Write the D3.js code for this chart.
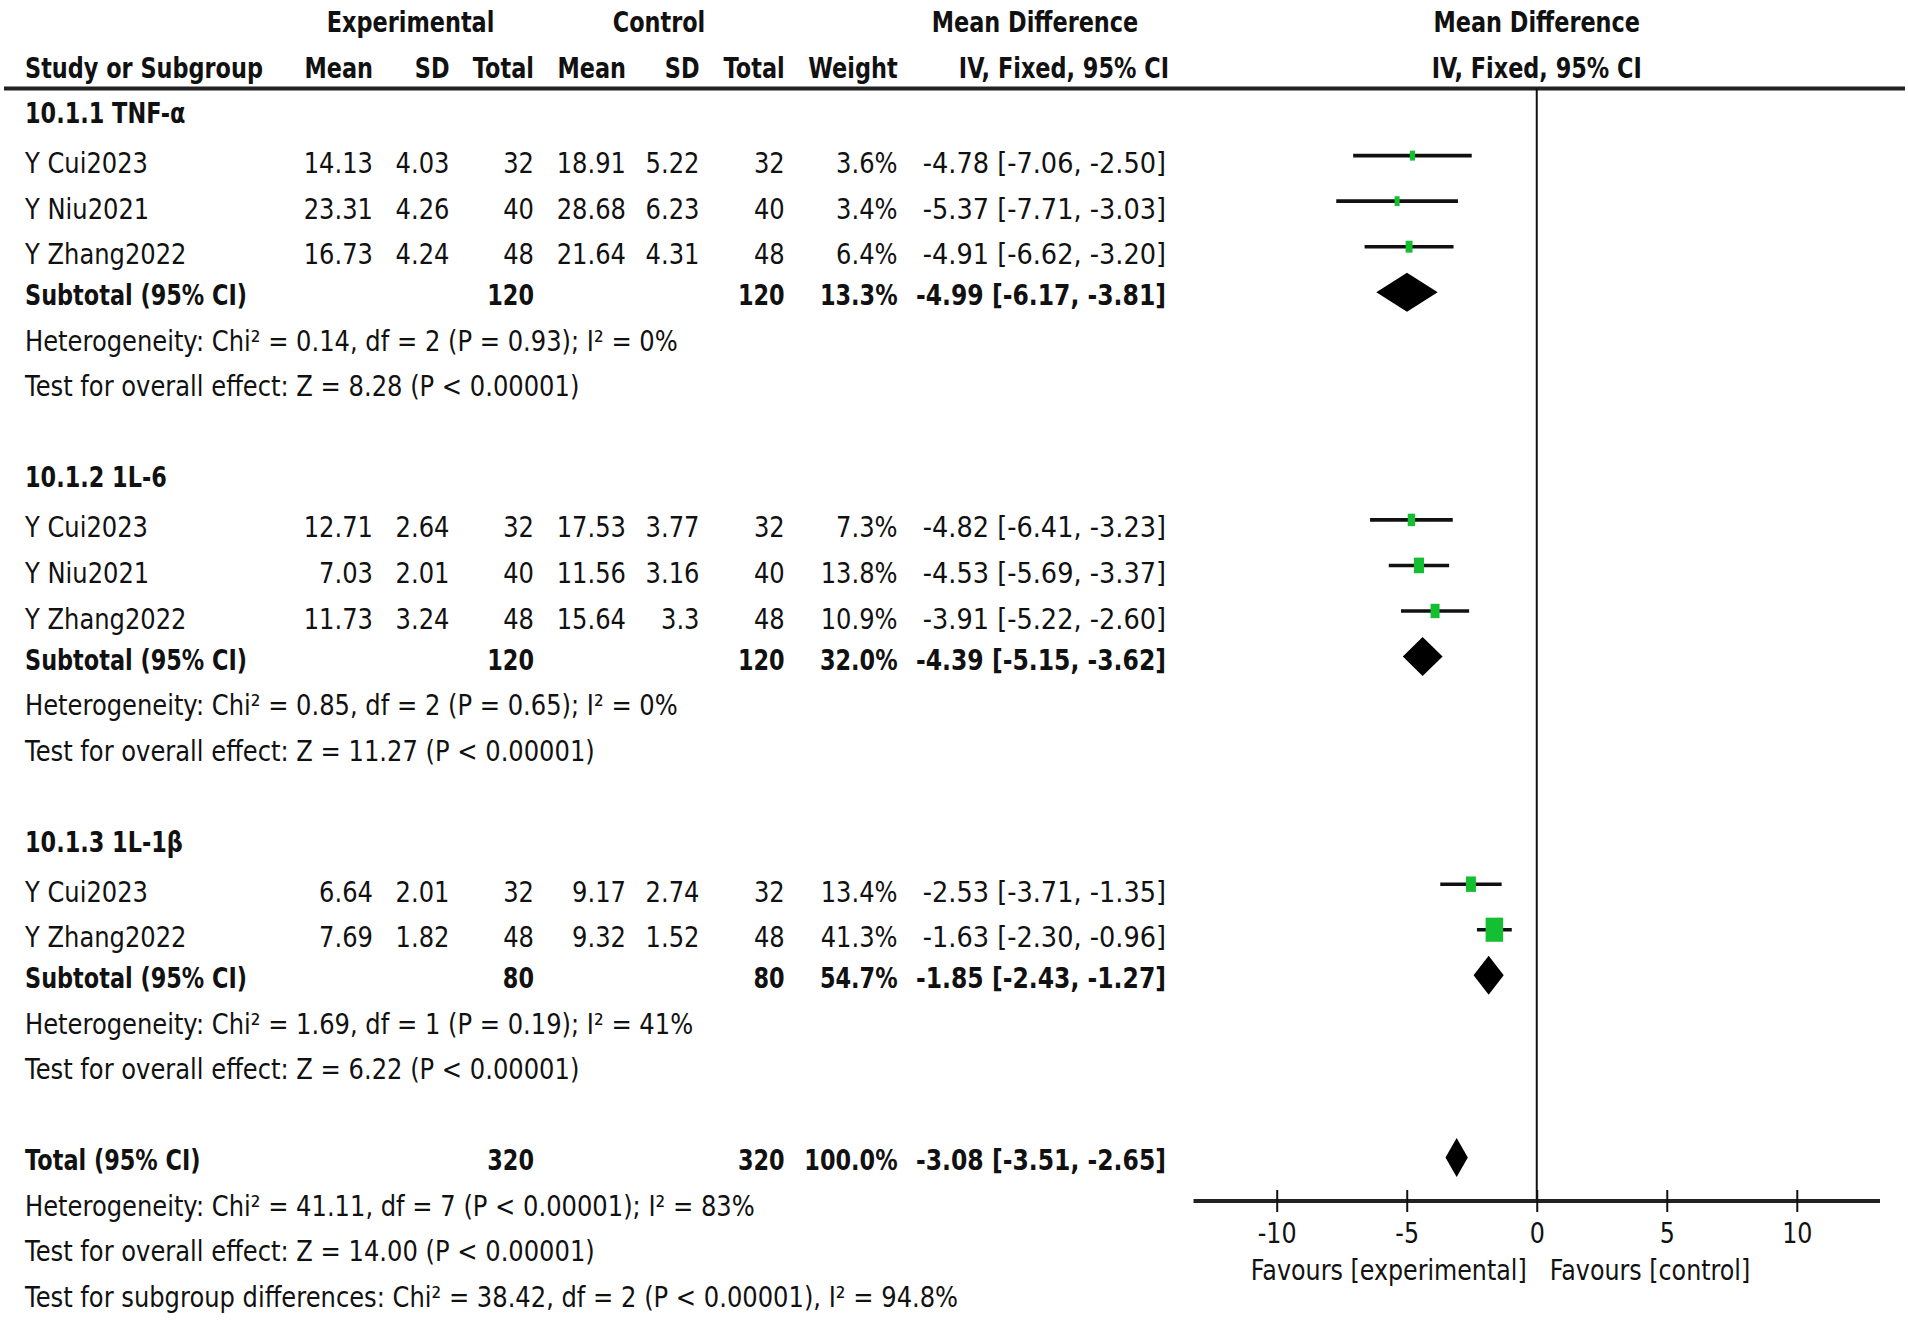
<!DOCTYPE html>
<html>
<head>
<meta charset="utf-8">
<script src="https://cdn.jsdelivr.net/npm/d3@7"></script>
<style>
  body { margin: 0; background: #fff; }
  text { font-family: "DejaVu Sans", sans-serif; font-size: 28px; fill: #111; }
</style>
</head>
<body>
<svg id="forest" width="1908" height="1321"></svg>
<script>
// ---- data ----
const groups = ["10.1.1 TNF-α", "10.1.2 1L-6", "10.1.3 1L-1β"];
const studyGroup = [0, 0, 0, 1, 1, 1, 2, 2];
const studyNames = ["Y Cui2023", "Y Niu2021", "Y Zhang2022", "Y Cui2023", "Y Niu2021", "Y Zhang2022", "Y Cui2023", "Y Zhang2022"];
const expMean = [14.13, 23.31, 16.73, 12.71, 7.03, 11.73, 6.64, 7.69];
const expSD = [4.03, 4.26, 4.24, 2.64, 2.01, 3.24, 2.01, 1.82];
const expN = [32, 40, 48, 32, 40, 48, 32, 48];
const ctlMean = [18.91, 28.68, 21.64, 17.53, 11.56, 15.64, 9.17, 9.32];
const ctlSD = [5.22, 6.23, 4.31, 3.77, 3.16, 3.3, 2.74, 1.52];
const ctlN = [32, 40, 48, 32, 40, 48, 32, 48];
const weight = [3.6, 3.4, 6.4, 7.3, 13.8, 10.9, 13.4, 41.3];
const md = [-4.78, -5.37, -4.91, -4.82, -4.53, -3.91, -2.53, -1.63];
const ciLow = [-7.06, -7.71, -6.62, -6.41, -5.69, -5.22, -3.71, -2.30];
const ciHigh = [-2.50, -3.03, -3.20, -3.23, -3.37, -2.60, -1.35, -0.96];

// subgroup totals
const subN = [120, 120, 80];
const subWeight = [13.3, 32.0, 54.7];
const subMd = [-4.99, -4.39, -1.85];
const subLow = [-6.17, -5.15, -2.43];
const subHigh = [-3.81, -3.62, -1.27];
const subHet = [
  "Heterogeneity: Chi² = 0.14, df = 2 (P = 0.93); I² = 0%",
  "Heterogeneity: Chi² = 0.85, df = 2 (P = 0.65); I² = 0%",
  "Heterogeneity: Chi² = 1.69, df = 1 (P = 0.19); I² = 41%"
];
const subEffect = [
  "Test for overall effect: Z = 8.28 (P < 0.00001)",
  "Test for overall effect: Z = 11.27 (P < 0.00001)",
  "Test for overall effect: Z = 6.22 (P < 0.00001)"
];

// overall
const totalN = 320;
const totalWeight = 100.0;
const totalMd = -3.08, totalLow = -3.51, totalHigh = -2.65;
const totalNotes = [
  "Heterogeneity: Chi² = 41.11, df = 7 (P < 0.00001); I² = 83%",
  "Test for overall effect: Z = 14.00 (P < 0.00001)",
  "Test for subgroup differences: Chi² = 38.42, df = 2 (P < 0.00001), I² = 94.8%"
];

const axisTicks = [-10, -5, 0, 5, 10];
const favours = ["Favours [experimental]", "Favours [control]"];

// ---- layout ----
const svg = d3.select("#forest");
// squeeze text horizontally like the picture
const SX = 0.865, SXB = 0.80, SXCI = 0.915, SXCIB = 0.84, SXAX = 0.85;
const green = "#14c032";

// row slots -> baseline
const y = d3.scaleLinear().domain([0, 28]).range([32, 1307]);
const markOff = -13;

// plot scale
const x = d3.scaleLinear().domain([-13.2, 13.2]).range([1193.5, 1880]);
const axisY = 1201;

const col = {
  name: 25, expMean: 373, expSD: 449.5, expN: 534,
  ctlMean: 626, ctlSD: 699.5, ctlN: 784.7, weight: 897.6, ci: 1166
};

const f2 = v => d3.format(".2f")(v).replace("−", "-");
const ciText = (m, l, h) => `${f2(m)} [${f2(l)}, ${f2(h)}]`;
const pct = w => w.toFixed(1) + "%";

function txt(g, tx, ty, s, anchor, bold, sx) {
  const k = sx || (bold ? SXB : SX);
  return g.append("text")
    .attr("transform", `translate(${tx},${ty}) scale(${k},1)`)
    .attr("text-anchor", anchor || "start")
    .attr("font-weight", bold ? "bold" : "normal")
    .text(s);
}

// build slot list
let slot = 2;
const studyRows = [];
const subRows = [];
groups.forEach((gname, gi) => {
  const idx = d3.range(studyGroup.length).filter(i => studyGroup[i] === gi);
  subRows.push({ gi, title: slot });
  idx.forEach((i, k) => studyRows.push({ i, slot: slot + 1 + k }));
  subRows[gi].sub = slot + idx.length + 1;
  subRows[gi].het = slot + idx.length + 2;
  subRows[gi].eff = slot + idx.length + 3;
  slot += idx.length + 5;
});
const totalSlot = slot;

// ---- header ----
const head = svg.append("g");
txt(head, 410.6, y(0), "Experimental", "middle", true);
txt(head, 659, y(0), "Control", "middle", true);
txt(head, 1035, y(0), "Mean Difference", "middle", true);
txt(head, x(0), y(0), "Mean Difference", "middle", true);
txt(head, col.name, y(1), "Study or Subgroup", "start", true);
txt(head, col.expMean, y(1), "Mean", "end", true);
txt(head, col.expSD, y(1), "SD", "end", true);
txt(head, col.expN, y(1), "Total", "end", true);
txt(head, col.ctlMean, y(1), "Mean", "end", true);
txt(head, col.ctlSD, y(1), "SD", "end", true);
txt(head, col.ctlN, y(1), "Total", "end", true);
txt(head, col.weight, y(1), "Weight", "end", true);
txt(head, 1169, y(1), "IV, Fixed, 95% CI", "end", true);
txt(head, x(0), y(1), "IV, Fixed, 95% CI", "middle", true);

svg.append("line")
  .attr("x1", 4).attr("x2", 1905)
  .attr("y1", 88.5).attr("y2", 88.5)
  .attr("stroke", "#222").attr("stroke-width", 4);

// zero line
svg.append("line")
  .attr("x1", x(0)).attr("x2", x(0))
  .attr("y1", 88.5).attr("y2", axisY)
  .attr("stroke", "#111").attr("stroke-width", 2);

// ---- study rows ----
const body = svg.append("g");
studyRows.forEach(r => {
  const i = r.i, ty = y(r.slot + 0.1);
  txt(body, col.name, ty, studyNames[i]);
  txt(body, col.expMean, ty, String(expMean[i]), "end");
  txt(body, col.expSD, ty, String(expSD[i]), "end");
  txt(body, col.expN, ty, String(expN[i]), "end");
  txt(body, col.ctlMean, ty, String(ctlMean[i]), "end");
  txt(body, col.ctlSD, ty, String(ctlSD[i]), "end");
  txt(body, col.ctlN, ty, String(ctlN[i]), "end");
  txt(body, col.weight, ty, pct(weight[i]), "end");
  txt(body, col.ci, ty, ciText(md[i], ciLow[i], ciHigh[i]), "end", false, SXCI);
});

// CI whiskers
svg.append("g").selectAll("line")
  .data(studyRows)
  .enter().append("line")
  .attr("x1", d => x(ciLow[d.i]))
  .attr("x2", d => x(ciHigh[d.i]))
  .attr("y1", d => y(d.slot) + markOff)
  .attr("y2", d => y(d.slot) + markOff)
  .attr("stroke", "#111").attr("stroke-width", 3.6);

// weight boxes (picture is stretched vertically, so boxes are taller than wide)
const boxW = d3.scaleSqrt().domain([0, 41.3]).range([0, 17.5]);
svg.append("g").selectAll("rect")
  .data(studyRows)
  .enter().append("rect")
  .attr("width", d => boxW(weight[d.i]))
  .attr("height", d => boxW(weight[d.i]) * 1.15 + 4)
  .attr("x", d => x(md[d.i]) - boxW(weight[d.i]) / 2)
  .attr("y", d => y(d.slot) + markOff - (boxW(weight[d.i]) * 1.15 + 4) / 2)
  .attr("fill", green);

// ---- subgroup rows ----
subRows.forEach(s => {
  const gi = s.gi;
  txt(body, col.name, y(s.title), groups[gi], "start", true);
  const ty = y(s.sub);
  txt(body, col.name, ty, "Subtotal (95% CI)", "start", true);
  txt(body, col.expN, ty, String(subN[gi]), "end", true);
  txt(body, col.ctlN, ty, String(subN[gi]), "end", true);
  txt(body, col.weight, ty, pct(subWeight[gi]), "end", true);
  txt(body, col.ci, ty, ciText(subMd[gi], subLow[gi], subHigh[gi]), "end", true, SXCIB);
  txt(body, col.name, y(s.het), subHet[gi]);
  txt(body, col.name, y(s.eff), subEffect[gi]);
});

const diamond = (m, l, h, cy) => {
  const hh = 19.5;
  return `M${x(l)},${cy} L${x(m)},${cy - hh} L${x(h)},${cy} L${x(m)},${cy + hh} Z`;
};

svg.append("g").selectAll("path")
  .data(subRows)
  .enter().append("path")
  .attr("d", s => diamond(subMd[s.gi], subLow[s.gi], subHigh[s.gi], y(s.sub) + markOff))
  .attr("fill", "#000");

// ---- overall ----
const ty = y(totalSlot);
txt(body, col.name, ty, "Total (95% CI)", "start", true);
txt(body, col.expN, ty, String(totalN), "end", true);
txt(body, col.ctlN, ty, String(totalN), "end", true);
txt(body, col.weight, ty, pct(totalWeight), "end", true);
txt(body, col.ci, ty, ciText(totalMd, totalLow, totalHigh), "end", true, SXCIB);
totalNotes.forEach((t, k) => txt(body, col.name, y(totalSlot + 1 + k), t));

svg.append("path")
  .attr("d", diamond(totalMd, totalLow, totalHigh, ty + markOff))
  .attr("fill", "#000");

// ---- axis ----
svg.append("line")
  .attr("x1", x.range()[0]).attr("x2", x.range()[1])
  .attr("y1", axisY).attr("y2", axisY)
  .attr("stroke", "#222").attr("stroke-width", 4);

const axis = svg.append("g")
  .attr("transform", `translate(0,${axisY - 11})`)
  .call(d3.axisBottom(x).tickValues(axisTicks).tickSize(22).tickSizeOuter(0)
    .tickFormat(d => String(d)));
axis.select(".domain").remove();
axis.selectAll(".tick line").attr("stroke", "#111").attr("stroke-width", 2);
axis.selectAll(".tick text")
  .attr("y", 0).attr("dy", null)
  .attr("transform", `translate(0,${1242.7 - (axisY - 11)}) scale(${SXAX},1)`)
  .attr("font-family", null).attr("font-size", null)
  .attr("fill", "#111");

txt(svg, x(0) - 10, 1280, favours[0], "end", false, SXAX);
txt(svg, x(0) + 13, 1280, favours[1], "start", false, SXAX);
</script>
</body>
</html>
